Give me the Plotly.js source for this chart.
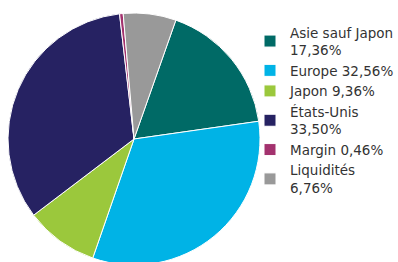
<!DOCTYPE html>
<html>
<head>
<meta charset="utf-8">
<script src="https://cdn.plot.ly/plotly-3.0.1.min.js"></script>
<style>
html,body{margin:0;padding:0;overflow:hidden;background:#fff;}
#chart{width:398px;height:280px;}
</style>
</head>
<body>
<div id="chart"></div>
<script>
const categories = ["Asie sauf Japon", "Europe", "Japon", "États-Unis", "Margin", "Liquidités"];
const values = [17.36, 32.56, 9.36, 33.50, 0.46, 6.76];
const legendLabels = ["Asie sauf Japon<br>17,36%", "Europe 32,56%", "Japon 9,36%", "États-Unis<br>33,50%", "Margin 0,46%", "Liquidités<br>6,76%"];
const colors = ["#006a66", "#00b3e6", "#9bc83c", "#262262", "#a3326e", "#999999"];

const W = 398, H = 280;
const data = [{
  type: "pie",
  labels: legendLabels,
  values: values,
  sort: false,
  direction: "clockwise",
  rotation: 19.4,
  textinfo: "none",
  hoverinfo: "skip",
  marker: {colors: colors, line: {color: "#ffffff", width: 1}},
  domain: {x: [8 / W, 260 / W], y: [1 - 265 / H, 1 - 13 / H]}
}];
const layout = {
  width: W, height: H,
  margin: {l: 0, r: 0, t: 0, b: 0, autoexpand: false},
  paper_bgcolor: "#ffffff",
  showlegend: true,
  legend: {
    x: 250 / W, xanchor: "left",
    y: 1 - 17 / H, yanchor: "top",
    bgcolor: "rgba(0,0,0,0)",
    font: {family: "DejaVu Sans, Verdana, sans-serif", size: 13.5, color: "#333333"},
    tracegroupgap: 0,
    itemclick: false
  },
  font: {family: "DejaVu Sans, Verdana, sans-serif"}
};
Plotly.newPlot("chart", data, layout, {staticPlot: true, displayModeBar: false});
</script>
</body>
</html>
